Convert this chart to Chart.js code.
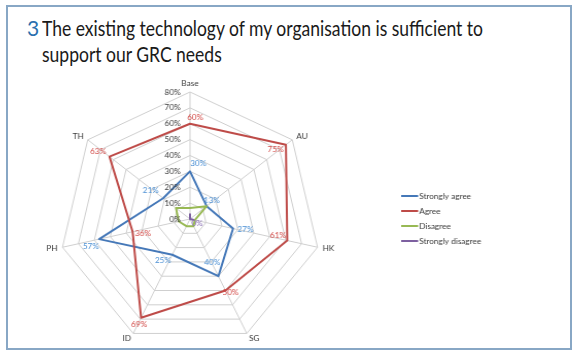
<!DOCTYPE html>
<html>
<head>
<meta charset="utf-8">
<script src="https://cdn.jsdelivr.net/npm/chart.js@4.4.0/dist/chart.umd.min.js"></script>
<style>
body{margin:0;background:#fff;}
#wrap{position:relative;width:580px;height:358px;overflow:hidden;}
#frame{position:absolute;left:6px;top:5px;width:562px;height:341px;border:2px solid #88a7c5;}
#num{position:absolute;left:27px;top:15px;font-family:Lato;font-size:21px;line-height:26px;color:#2a6fae;}
#title{position:absolute;left:42px;top:15px;font-family:Lato;font-size:21px;line-height:26px;color:#1a1a1a;white-space:nowrap;}
#title div{transform-origin:0 0;}
#chart{position:absolute;left:0;top:0;transform:scaleX(1.03);transform-origin:190px 0;}
</style>
</head>
<body>
<div id="wrap">
  <div id="frame"></div>
  <div id="num">3</div>
  <div id="title"><div id="t1">The existing technology of my organisation is sufficient to</div><div id="t2">support our GRC needs</div></div>
  <canvas id="chart" width="580" height="358"></canvas>
</div>
<script>
var axisLabels = ['Base','AU','HK','SG','ID','PH','TH'];
var stronglyAgree = [30,13,27,40,25,57,21];
var agree = [60,75,61,50,69,36,63];
var disagree = [7,13,3,5,5,7,11];
var stronglyDisagree = [3,0,2,0,0,0,0];
var tickValues = [0,10,20,30,40,50,60,70,80];
var seriesNames = ['Strongly agree','Agree','Disagree','Strongly disagree'];

// where each value label sits next to its point (px), null = no label
var labelShift = [
  [[8,-8],[5,-6],[12,1],[-6,-14],[-9,6],[-8,7],[-12,-8]],
  [[5,-6],[-10,5],[-9,-5],[5,2],[-2,7],[10,2],[-11,-5]],
  null,
  [null,null,null,[7,4],null,null,null]
];
var lineColors = ['#4578b8','#be4b48','#98b954','#7d60a0'];
var labelColors = ['#4a8fd4','#d24a47','#98b954','#8a6fb5'];

// squeeze title lines to the width they have in the picture
var t1 = document.getElementById('t1'), t2 = document.getElementById('t2');
var sx = 441 / t1.getBoundingClientRect().width;
t1.style.transform = 'scaleX(' + sx + ')';
t2.style.transform = 'scaleX(' + sx + ')';

var extras = {
  id: 'extras',
  afterDraw: function(chart) {
    var ctx = chart.ctx, s = chart.scales.r;
    ctx.save();
    // tick labels on the Base axis
    ctx.font = '8px Lato';
    ctx.fillStyle = '#3a3a3a';
    ctx.textAlign = 'right';
    ctx.textBaseline = 'middle';
    tickValues.forEach(function(v) {
      var d = s.getDistanceFromCenterForValue(v);
      ctx.fillText(v + '%', s.xCenter - 9, s.yCenter - d);
    });
    // axis names
    axisLabels.forEach(function(l, i) {
      var p = s.getPointPosition(i, s.drawingArea + 5);
      var dx = p.x - s.xCenter, dy = p.y - s.yCenter;
      ctx.textAlign = Math.abs(dx) < 1 ? 'center' : (dx > 0 ? 'left' : 'right');
      ctx.textBaseline = (dy < -s.drawingArea * 0.9) ? 'bottom' : 'middle';
      ctx.fillText(l, p.x, p.y);
    });
    // value labels
    ctx.textAlign = 'center';
    ctx.textBaseline = 'middle';
    chart.data.datasets.forEach(function(ds, k) {
      if (!labelShift[k]) return;
      ctx.fillStyle = labelColors[k];
      chart.getDatasetMeta(k).data.forEach(function(pt, i) {
        var sh = labelShift[k][i];
        if (!sh) return;
        ctx.fillText(ds.data[i] + '%', pt.x + sh[0], pt.y + sh[1]);
      });
    });
    // legend
    ctx.font = '8px Lato';
    ctx.textAlign = 'left';
    seriesNames.forEach(function(n, k) {
      var y = 196 + k * 15;
      ctx.strokeStyle = lineColors[k];
      ctx.lineWidth = 2;
      ctx.beginPath();
      ctx.moveTo(395, y);
      ctx.lineTo(411.5, y);
      ctx.stroke();
      ctx.fillStyle = '#3a3a3a';
      ctx.fillText(n, 412.5, y);
    });
    ctx.restore();
  }
};

new Chart('chart', {
  type: 'radar',
  data: {
    labels: axisLabels,
    datasets: [
      {label: seriesNames[0], data: stronglyAgree, borderColor: lineColors[0], order: 4},
      {label: seriesNames[1], data: agree, borderColor: lineColors[1], order: 3},
      {label: seriesNames[2], data: disagree, borderColor: lineColors[2], order: 2},
      {label: seriesNames[3], data: stronglyDisagree, borderColor: lineColors[3], order: 1}
    ]
  },
  options: {
    responsive: false,
    animation: false,
    devicePixelRatio: 1,
    layout: {padding: {left: 63, right: 263, top: 92, bottom: 12}},
    elements: {
      line: {borderWidth: 2, fill: false, tension: 0, borderJoinStyle: 'round'},
      point: {radius: 0, hoverRadius: 0}
    },
    plugins: {legend: {display: false}, tooltip: {enabled: false}},
    scales: {
      r: {
        min: 0, max: 80,
        ticks: {display: false, stepSize: 10},
        pointLabels: {display: false},
        grid: {color: '#cfcfcf', lineWidth: 1},
        angleLines: {color: '#cfcfcf', lineWidth: 1}
      }
    }
  },
  plugins: [extras]
});
</script>
</body>
</html>
